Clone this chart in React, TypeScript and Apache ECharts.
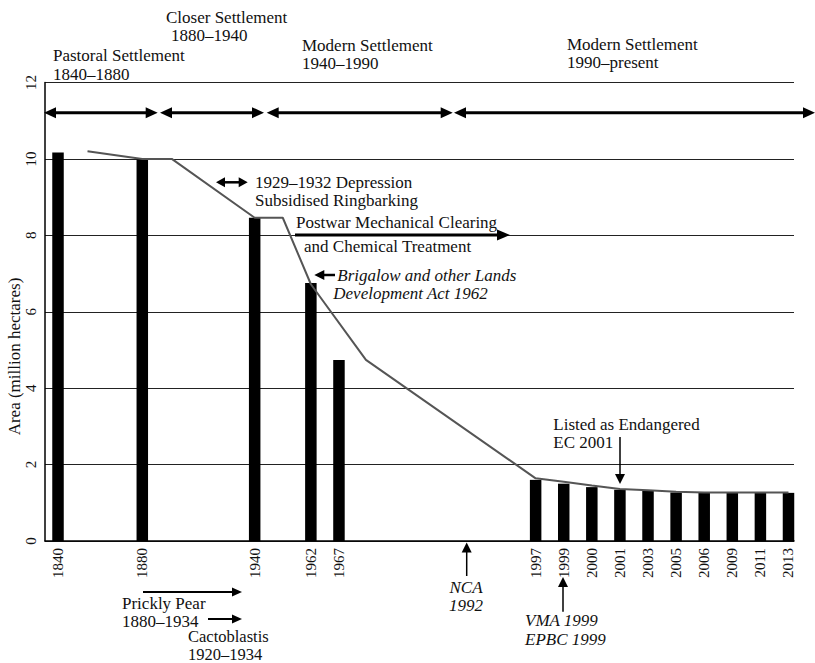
import React, { useEffect, useRef } from "react";
import * as echarts from "echarts";

// Ordinal timeline of the x axis (blank entries are unlabeled gaps)
const timeline = ["1840", "", "", "1880", "", "", "", "1940", "", "1962", "1967", "", "", "", "", "", "", "1997", "1999", "2000", "2001", "2003", "2005", "2006", "2009", "2011", "2013"];

// Bars: remnant area (million hectares)
const barYears = ["1840", "1880", "1940", "1962", "1967", "1997", "1999", "2000", "2001", "2003", "2005", "2006", "2009", "2011", "2013"];
const barAreas = [10.17, 10.0, 8.46, 6.75, 4.74, 1.6, 1.5, 1.41, 1.34, 1.31, 1.27, 1.26, 1.26, 1.26, 1.26];

// Trend line (timeline positions and area)
const trendSlots = [1.05, 3, 4.05, 7, 8, 9, 10.96, 17, 18, 19, 20, 21, 22, 23, 24, 25, 26];
const trendAreas = [10.2, 10.0, 10.0, 8.46, 8.46, 6.72, 4.74, 1.64, 1.55, 1.45, 1.36, 1.33, 1.29, 1.27, 1.27, 1.27, 1.27];

const yMin = 0;
const yMax = 12;
const yStep = 2;

const FONT = "'Liberation Serif', 'Times New Roman', serif";

function txt(text: string, x: number, y: number, opts: any = {}) {
  return {
    type: "text",
    x,
    y,
    z: 100,
    silent: true,
    rotation: opts.rotation || 0,
    style: {
      text,
      fill: "#111",
      fontSize: opts.size || 17,
      fontFamily: FONT,
      fontStyle: opts.italic ? "italic" : "normal",
      align: opts.align || "left",
      verticalAlign: "middle",
    },
  };
}

function hArrow(x1: number, x2: number, y: number, left: boolean, right: boolean, head: number, half: number, w: number) {
  const els: any[] = [];
  els.push({
    type: "line",
    z: 100,
    silent: true,
    shape: { x1: left ? x1 + head * 0.7 : x1, y1: y, x2: right ? x2 - head * 0.7 : x2, y2: y },
    style: { stroke: "#000", lineWidth: w },
  });
  if (right)
    els.push({
      type: "polygon",
      z: 100,
      silent: true,
      shape: { points: [[x2, y], [x2 - head, y - half], [x2 - head, y + half]] },
      style: { fill: "#000" },
    });
  if (left)
    els.push({
      type: "polygon",
      z: 100,
      silent: true,
      shape: { points: [[x1, y], [x1 + head, y - half], [x1 + head, y + half]] },
      style: { fill: "#000" },
    });
  return els;
}

function vArrow(x: number, yTip: number, yEnd: number, head: number, half: number, w: number) {
  const dir = yEnd > yTip ? 1 : -1; // tail direction
  return [
    {
      type: "line",
      z: 100,
      silent: true,
      shape: { x1: x, y1: yTip + dir * head * 0.7, x2: x, y2: yEnd },
      style: { stroke: "#000", lineWidth: w },
    },
    {
      type: "polygon",
      z: 100,
      silent: true,
      shape: { points: [[x, yTip], [x - half, yTip + dir * head], [x + half, yTip + dir * head]] },
      style: { fill: "#000" },
    },
  ];
}

export default function App() {
  const ref = useRef<HTMLDivElement>(null);

  useEffect(() => {
    if (!ref.current) return;
    const chart = echarts.init(ref.current, null, { renderer: "svg" });

    const barData = barYears.map((y, i) => [timeline.indexOf(y), barAreas[i]]);
    const lineData = trendSlots.map((s, i) => [s, trendAreas[i]]);
    const labelSlots = barYears.map((y) => timeline.indexOf(y));

    const graphic: any[] = [
      // y axis name
      txt("Area (million hectares)", 14, 356.5, { rotation: Math.PI / 2, align: "center", size: 17 }),
      // period headers
      txt("Pastoral Settlement", 53, 55),
      txt("1840\u20131880", 53, 74),
      txt("Closer Settlement", 166, 17),
      txt("1880\u20131940", 171, 35),
      txt("Modern Settlement", 302, 45),
      txt("1940\u20131990", 302, 63),
      txt("Modern Settlement", 567, 44),
      txt("1990\u2013present", 567, 62),
      // period arrows
      ...hArrow(44, 157.7, 112.7, true, true, 12, 5.5, 3),
      ...hArrow(160, 264, 112.7, true, true, 12, 5.5, 3),
      ...hArrow(266.7, 452.7, 112.7, true, true, 12, 5.5, 3),
      ...hArrow(454, 815, 112.7, true, true, 12, 5.5, 3),
      // annotations inside the plot
      ...hArrow(216, 247.7, 182.3, true, true, 9, 5, 2.5),
      txt("1929\u20131932 Depression", 255, 182),
      txt("Subsidised Ringbarking", 255, 200.7),
      txt("Postwar Mechanical Clearing", 296, 222.7),
      ...hArrow(295, 510, 235, false, true, 13, 5.5, 3),
      txt("and Chemical Treatment", 304, 246),
      ...hArrow(314.3, 335, 275, true, false, 10, 5, 2.5),
      txt("Brigalow and other Lands", 337.3, 275, { italic: true }),
      txt("Development Act 1962", 333.3, 293.3, { italic: true }),
      txt("Listed as Endangered", 553.3, 424),
      txt("EC 2001", 553.3, 442.7),
      ...vArrow(620, 484, 437, 10, 5, 1.5),
      // annotations below the axis
      ...vArrow(466.7, 542.5, 576, 10, 5, 1.5),
      txt("NCA", 466, 587, { italic: true, align: "center" }),
      txt("1992", 466, 605.7, { italic: true, align: "center" }),
      ...vArrow(563, 577, 611.7, 10, 5, 1.5),
      txt("VMA 1999", 525, 620, { italic: true }),
      txt("EPBC 1999", 525, 639, { italic: true }),
      ...hArrow(143, 242, 592, false, true, 10, 4.5, 2),
      txt("Prickly Pear", 122, 603),
      txt("1880\u20131934", 122, 621),
      ...hArrow(208, 242, 619, false, true, 10, 4.5, 2),
      txt("Cactoblastis", 188, 636, { size: 16.5 }),
      txt("1920\u20131934", 188, 654.5, { size: 16.5 }),
    ];

    chart.setOption({
      animation: false,
      backgroundColor: "#ffffff",
      grid: { left: 45, right: 21, top: 82.5, bottom: 122, containLabel: false },
      xAxis: {
        type: "value",
        min: -0.463,
        max: 26.196,
        axisLine: { show: true, onZero: false, lineStyle: { color: "#000", width: 1.5 } },
        axisTick: { show: false },
        splitLine: { show: false },
        axisLabel: {
          customValues: labelSlots,
          formatter: (v: number) => timeline[Math.round(v)] || "",
          rotate: 90,
          margin: 7,
          fontSize: 15,
          fontFamily: FONT,
          color: "#111",
        },
      },
      yAxis: {
        type: "value",
        min: yMin,
        max: yMax,
        interval: yStep,
        axisLine: { show: true, onZero: false, lineStyle: { color: "#000", width: 1.5 } },
        axisTick: { show: false },
        splitLine: { show: true, lineStyle: { color: "#222", width: 1.2 } },
        axisLabel: {
          rotate: 90,
          margin: 7,
          fontSize: 15,
          fontFamily: FONT,
          color: "#111",
        },
      },
      series: [
        {
          type: "bar",
          data: barData,
          barWidth: 11.5,
          itemStyle: { color: "#000" },
          z: 2,
        },
        {
          type: "line",
          data: lineData,
          symbol: "none",
          lineStyle: { color: "#555", width: 2 },
          z: 3,
        },
      ],
      graphic,
    });

    return () => chart.dispose();
  }, []);

  return (
    <div
      ref={ref}
      style={{ position: "fixed", left: 0, top: 0, width: 815, height: 663, background: "#fff" }}
    />
  );
}
